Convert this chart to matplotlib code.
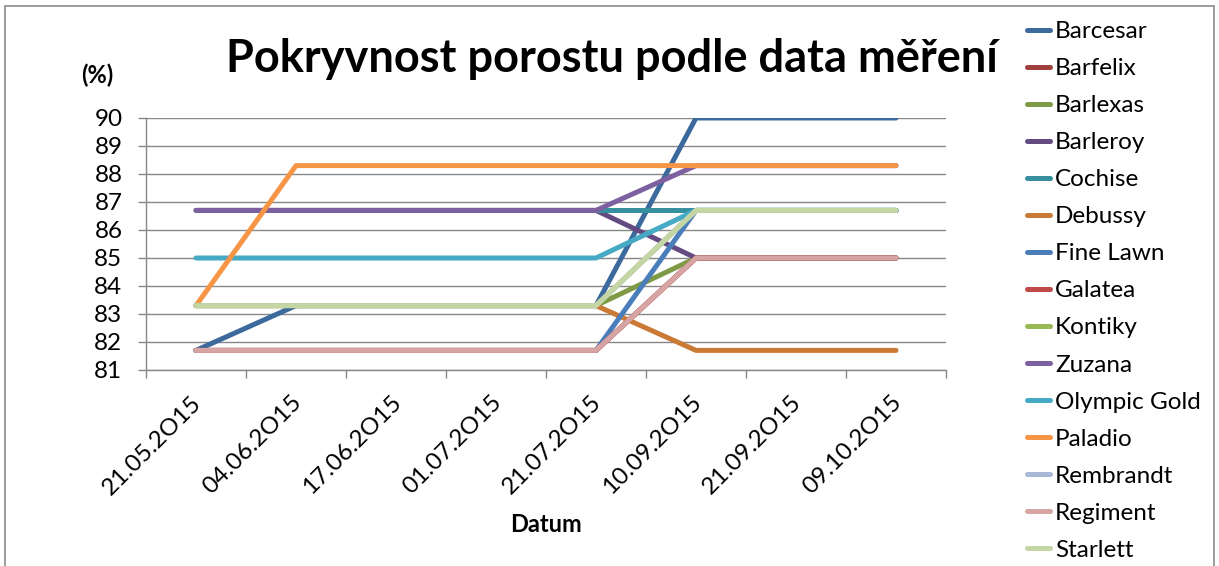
import matplotlib
matplotlib.use("Agg")
import matplotlib.pyplot as plt
import matplotlib.transforms as mtransforms
from matplotlib.patches import Rectangle
import numpy as np

plt.rcParams['font.family'] = ['Lato', 'DejaVu Sans']

dates = ["21.05.2O15", "04.06.2O15", "17.06.2O15", "01.07.2O15",
         "21.07.2O15", "10.09.2O15", "21.09.2O15", "09.10.2O15"]

varieties = ["Barcesar", "Barfelix", "Barlexas", "Barleroy", "Cochise",
             "Debussy", "Fine Lawn", "Galatea", "Kontiky", "Zuzana",
             "Olympic Gold", "Paladio", "Rembrandt", "Regiment", "Starlett"]

barcesar = [81.7, 83.3, 83.3, 83.3, 83.3, 90.0, 90.0, 90.0]
barfelix = [81.7, 81.7, 81.7, 81.7, 81.7, 85.0, 85.0, 85.0]
barlexas = [83.3, 83.3, 83.3, 83.3, 83.3, 85.0, 85.0, 85.0]
barleroy = [86.7, 86.7, 86.7, 86.7, 86.7, 85.0, 85.0, 85.0]
cochise = [86.7, 86.7, 86.7, 86.7, 86.7, 86.7, 86.7, 86.7]
debussy = [83.3, 83.3, 83.3, 83.3, 83.3, 81.7, 81.7, 81.7]
fine_lawn = [81.7, 81.7, 81.7, 81.7, 81.7, 86.7, 86.7, 86.7]
galatea = [81.7, 81.7, 81.7, 81.7, 81.7, 85.0, 85.0, 85.0]
kontiky = [83.3, 83.3, 83.3, 83.3, 83.3, 86.7, 86.7, 86.7]
zuzana = [86.7, 86.7, 86.7, 86.7, 86.7, 88.3, 88.3, 88.3]
olympic_gold = [85.0, 85.0, 85.0, 85.0, 85.0, 86.7, 86.7, 86.7]
paladio = [83.3, 88.3, 88.3, 88.3, 88.3, 88.3, 88.3, 88.3]
rembrandt = [83.3, 83.3, 83.3, 83.3, 83.3, 86.7, 86.7, 86.7]
regiment = [81.7, 81.7, 81.7, 81.7, 81.7, 85.0, 85.0, 85.0]
starlett = [83.3, 83.3, 83.3, 83.3, 83.3, 86.7, 86.7, 86.7]

series = [barcesar, barfelix, barlexas, barleroy, cochise, debussy, fine_lawn,
          galatea, kontiky, zuzana, olympic_gold, paladio, rembrandt,
          regiment, starlett]

colors = ["#3C6A9D", "#A0403D", "#7E9A45", "#644C82", "#36909F", "#CB7A35",
          "#4A7EBB", "#BE4B48", "#98B954", "#7D60A0", "#46AAC5", "#F69546",
          "#A7B9D7", "#D6A4A3", "#C3D6A4"]

W, H = 1219, 566
fig = plt.figure(figsize=(W / 100, H / 100), dpi=100)

# outer chart border
fig.patches.append(Rectangle((5 / W, -0.05), 1209 / W, 1 - 6 / H + 0.05,
                             transform=fig.transFigure, fill=False,
                             ec="#8a8a8a", lw=1.2))

ax = fig.add_axes([146 / W, 1 - 370 / H, 800 / W, 252 / H])

x = np.arange(len(dates))
for name, vals, col in zip(varieties, series, colors):
    ax.plot(x, vals, color=col, lw=3.6, solid_capstyle='round',
            solid_joinstyle='round', label=name)

ax.set_xlim(-0.5, len(dates) - 0.5)
ax.set_ylim(81, 90)
ax.set_yticks(np.arange(81, 91, 1))
ax.yaxis.grid(True, color="#878787", lw=1.0)
ax.set_axisbelow(True)

for s in ["top", "right"]:
    ax.spines[s].set_visible(False)
for s in ["left", "bottom"]:
    ax.spines[s].set_color("#878787")
    ax.spines[s].set_linewidth(1.0)

ax.tick_params(axis='y', length=6, width=1.0, color="#878787", pad=11,
               labelsize=17.5, labelcolor="black")
ax.set_xticks(x)
ax.set_xticks(np.arange(-0.5, len(dates), 1.0), minor=True)
ax.tick_params(axis='x', which='minor', length=6, width=1.0, color="#878787")
ax.tick_params(axis='x', which='major', length=0, pad=21, labelsize=17.5)
ax.set_xticklabels(dates)
offset = mtransforms.ScaledTranslation(2 / 100, 0, fig.dpi_scale_trans)
for lbl in ax.get_xticklabels():
    lbl.set_rotation(45)
    lbl.set_ha('right')
    lbl.set_va('center')
    lbl.set_rotation_mode('anchor')
    lbl.set_transform(lbl.get_transform() + offset)

fig.text(546 / W, 1 - 524 / H, "Datum", ha='center', va='center',
         fontsize=17, fontweight='bold')
fig.text(97 / W, 1 - 75 / H, "(%)", ha='center', va='center',
         fontsize=17, fontweight='bold')
fig.text(612 / W, 1 - 59 / H, "Pokryvnost porostu podle data měření",
         ha='center', va='center', fontsize=32.5, fontweight='bold')

leg = ax.legend(loc='upper left', bbox_to_anchor=(1027 / W, 1 - 21 / H),
                bbox_transform=fig.transFigure, frameon=False, fontsize=17.5,
                handlelength=0.95, handletextpad=0.2, labelspacing=0.66,
                borderpad=0, borderaxespad=0)

fig.savefig("out.png", dpi=100)
